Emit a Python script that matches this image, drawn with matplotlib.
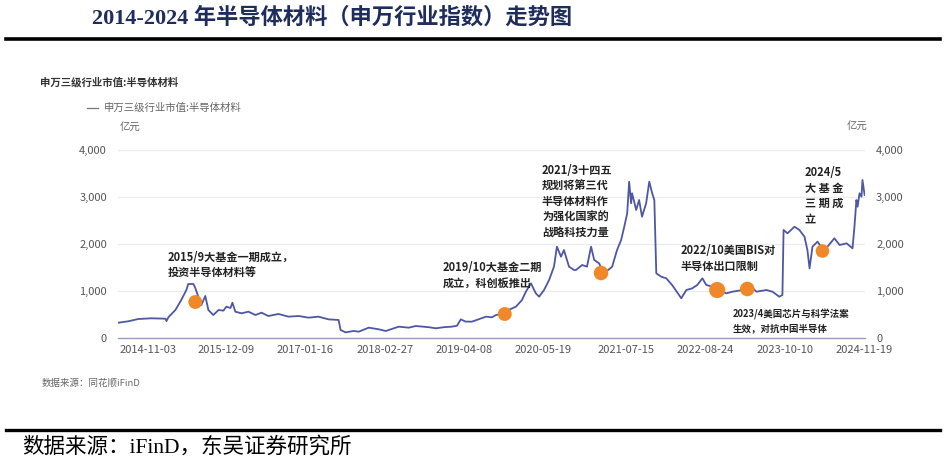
import pandas as pd
import matplotlib
matplotlib.use("Agg")
import matplotlib.pyplot as plt

plt.rcParams['font.family'] = ['Noto Sans CJK SC', 'DejaVu Sans']

# 申万三级行业市值:半导体材料（亿元），从图上读出的近似值
dates = [
    "2014-06-02", "2014-07-23", "2014-09-13", "2014-11-18", "2015-01-30", "2015-02-04",
    "2015-02-14", "2015-03-22", "2015-04-21", "2015-05-17", "2015-05-27", "2015-06-22",
    "2015-07-02", "2015-07-23", "2015-08-02", "2015-08-22", "2015-09-07", "2015-10-02",
    "2015-10-29", "2015-11-23", "2015-12-08", "2015-12-29", "2016-01-08", "2016-01-23",
    "2016-02-23", "2016-03-30", "2016-05-05", "2016-06-05", "2016-07-10", "2016-08-31",
    "2016-10-21", "2016-12-12", "2017-02-01", "2017-03-24", "2017-05-14", "2017-07-05",
    "2017-07-15", "2017-08-10", "2017-09-20", "2017-10-16", "2017-12-06", "2018-01-27",
    "2018-03-03", "2018-05-09", "2018-06-29", "2018-08-04", "2018-10-09", "2018-11-15",
    "2018-12-26", "2019-02-04", "2019-03-03", "2019-03-23", "2019-04-15", "2019-05-18",
    "2019-06-23", "2019-07-30", "2019-08-29", "2019-09-19", "2019-10-29", "2019-11-24",
    "2019-12-30", "2020-01-30", "2020-02-19", "2020-03-16", "2020-04-10", "2020-04-27",
    "2020-05-22", "2020-06-17", "2020-07-12", "2020-07-27", "2020-08-17", "2020-09-01",
    "2020-09-27", "2020-10-23", "2020-11-02", "2020-12-03", "2020-12-28", "2021-01-18",
    "2021-02-03", "2021-02-28", "2021-03-16", "2021-04-05", "2021-05-06", "2021-05-31",
    "2021-06-21", "2021-07-07", "2021-07-22", "2021-08-01", "2021-08-11", "2021-08-16",
    "2021-09-06", "2021-09-21", "2021-10-06", "2021-10-27", "2021-11-12", "2021-11-27",
    "2021-12-08", "2021-12-18", "2022-01-12", "2022-02-07", "2022-03-09", "2022-04-25",
    "2022-05-21", "2022-06-20", "2022-07-16", "2022-08-11", "2022-08-31", "2022-10-01",
    "2022-10-26", "2022-12-11", "2023-01-12", "2023-03-04", "2023-03-29", "2023-04-08",
    "2023-05-15", "2023-07-05", "2023-08-05", "2023-09-09", "2023-09-25", "2023-10-01",
    "2023-10-21", "2023-11-26", "2023-12-21", "2024-01-16", "2024-01-31", "2024-02-11",
    "2024-02-26", "2024-03-23", "2024-04-17", "2024-05-13", "2024-06-17", "2024-07-14",
    "2024-08-19", "2024-09-18", "2024-09-28", "2024-10-08", "2024-10-14", "2024-10-24",
    "2024-11-03", "2024-11-08", "2024-11-19",
]
values = [
    325, 355, 404, 419, 411, 360,
    440, 596, 808, 1021, 1149, 1149,
    1064, 808, 702, 894, 596, 489,
    596, 582, 666, 638, 751, 560,
    525, 560, 489, 539, 468, 511,
    454, 468, 433, 454, 397, 383,
    170, 120, 150, 135, 220, 185,
    149, 241, 220, 255, 230, 206,
    230, 241, 260, 397, 350, 347,
    400, 454, 440, 489, 520, 600,
    666, 808, 985, 1163, 950, 879,
    1021, 1234, 1518, 1943, 1730, 1872,
    1518, 1447, 1447, 1553, 1518, 1943,
    1660, 1589, 1450, 1411, 1518, 1872,
    2085, 2368, 2652, 3326, 2866, 3079,
    2723, 2936, 2581, 2866, 3326, 3079,
    2936, 1376, 1305, 1270, 1128, 845,
    1021, 1057, 1128, 1270, 1128, 1092,
    1040, 950, 985, 1021, 1060, 1128,
    985, 1021, 985, 879, 915, 2298,
    2227, 2368, 2298, 2156, 1872, 1482,
    1943, 2050, 1900, 1943, 2121, 1979,
    2014, 1908, 2368, 2936, 2794, 3079,
    3007, 3362, 3043,
]

# 事件标注点
event_dates = ["2015-07-02", "2019-11-03", "2021-03-10", "2022-10-26", "2023-03-29", "2024-04-17"]
event_values = [766, 511, 1383, 1021, 1043, 1851]
event_sizes = [100, 100, 110, 135, 110, 95]

tick_labels = ["2014-11-03", "2015-12-09", "2017-01-16", "2018-02-27", "2019-04-08",
               "2020-05-19", "2021-07-15", "2022-08-24", "2023-10-10", "2024-11-19"]
y_ticks = [0, 1000, 2000, 3000, 4000]

x = pd.to_datetime(dates)
ex = pd.to_datetime(event_dates)
xt = pd.to_datetime(tick_labels)

W, H = 945, 463
fig = plt.figure(figsize=(W / 100, H / 100), dpi=100)
fig.patch.set_facecolor('white')

def fx(px):
    return px / W

def fy(py):
    return 1 - py / H

ax = fig.add_axes([fx(118), fy(338), fx(865) - fx(118), fy(150) - fy(338)])
ax.plot(x, values, color='#4f57a3', lw=1.3, zorder=3)
ax.scatter(ex, event_values, s=event_sizes, color='#f0882a', zorder=4, linewidths=0)

ax.set_ylim(0, 4000)
ax.set_xlim(pd.Timestamp("2014-06-01"), pd.Timestamp("2024-11-21"))
ax.set_yticks(y_ticks)
ax.set_yticklabels([f"{v:,}" for v in y_ticks])
ax.set_xticks(xt)
ax.set_xticklabels(tick_labels)
ax.grid(axis='y', color='#ececec', lw=0.9)
ax.set_axisbelow(True)
for s in ['top', 'right', 'left']:
    ax.spines[s].set_visible(False)
ax.spines['bottom'].set_color('#9a9fc0')
ax.spines['bottom'].set_linewidth(1.0)
ax.tick_params(axis='both', length=0, colors='#555555', labelsize=8)
ax.tick_params(axis='y', pad=8)
ax.tick_params(axis='x', pad=5)

ax2 = ax.twinx()
ax2.set_ylim(0, 4000)
ax2.set_yticks(y_ticks)
ax2.set_yticklabels([f"{v:,}" for v in y_ticks])
for s in ax2.spines.values():
    s.set_visible(False)
ax2.tick_params(axis='y', length=0, colors='#555555', labelsize=8, pad=8)

# 标题与分隔线
fig.text(fx(92), fy(18), "2014-2024 年半导体材料（申万行业指数）走势图",
         family=['Liberation Serif', 'Noto Sans CJK SC'], fontsize=16, fontweight='bold',
         color='#1f2d5c', va='center', ha='left')
fig.add_artist(plt.Line2D([fx(6), fx(940)], [fy(39), fy(39)], color='black', lw=2.6))
fig.add_artist(plt.Line2D([fx(6), fx(940)], [fy(430), fy(430)], color='black', lw=2.4))

# 图内文字
fig.text(fx(40), fy(82), "申万三级行业市值:半导体材料", fontsize=7.5, fontweight='bold',
         color='#333333', va='center')
fig.add_artist(plt.Line2D([fx(87), fx(98)], [fy(108), fy(108)], color='#777777', lw=0.9))
fig.text(fx(104), fy(108), "申万三级行业市值:半导体材料", fontsize=7.5, color='#666666', va='center')
fig.text(fx(120), fy(128), "亿元", fontsize=7.5, color='#666666', va='center')
fig.text(fx(847), fy(127), "亿元", fontsize=7.5, color='#666666', va='center')
fig.text(fx(42), fy(383), "数据来源：同花顺iFinD", fontsize=6.8, color='#666666', va='center')

ann = dict(fontsize=8, fontweight='bold', color='#222222', va='top', ha='left', linespacing=1.25)
fig.text(fx(168), fy(251), "2015/9大基金一期成立，\n投资半导体材料等", **ann)
fig.text(fx(443), fy(261), "2019/10大基金二期\n成立，科创板推出", **ann)
fig.text(fx(542), fy(164), "2021/3十四五\n规划将第三代\n半导体材料作\n为强化国家的\n战略科技力量", **ann)
fig.text(fx(681), fy(244), "2022/10美国BIS对\n半导体出口限制", **ann)
fig.text(fx(733), fy(309), "2023/4美国芯片与科学法案\n生效，对抗中国半导体",
         fontsize=6.8, fontweight='bold', color='#222222', va='top', ha='left', linespacing=1.35)
fig.text(fx(805), fy(166), "2024/5\n大 基 金\n三 期 成\n立", **ann)

# 底部来源
fig.text(fx(22), fy(447), "数据来源：iFinD，东吴证券研究所",
         family=['Liberation Serif', 'Noto Sans CJK SC'], fontsize=15.5, color='black', va='center')

fig.savefig("out.png", dpi=100, facecolor='white')
